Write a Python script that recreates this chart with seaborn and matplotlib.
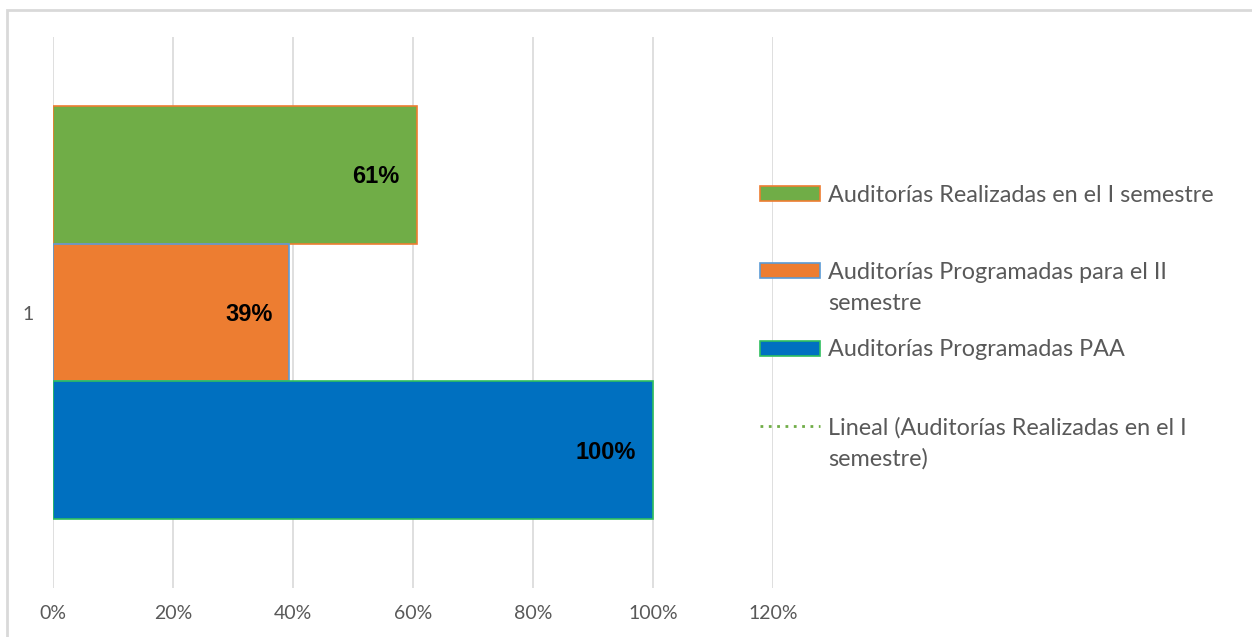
import matplotlib
matplotlib.use("Agg")
import matplotlib.pyplot as plt
from matplotlib.patches import Patch, Rectangle
from matplotlib.lines import Line2D
import seaborn as sns
import pandas as pd

# ---- data ----
series = ["Auditorías Realizadas en el I semestre",
          "Auditorías Programadas para el II semestre",
          "Auditorías Programadas PAA"]
values = [60.6, 39.4, 100]
category = "1"
trend_label = "Lineal (Auditorías Realizadas en el I semestre)"
x_ticks = [0, 20, 40, 60, 80, 100, 120]
x_tick_labels = ["0%", "20%", "40%", "60%", "80%", "100%", "120%"]

fill_colors = ["#70AD47", "#ED7D31", "#0070C0"]
edge_colors = ["#ED7D31", "#5B9BD5", "#2FBF5F"]

sns.set_theme(style="white")
plt.rcParams["font.family"] = ["Lato", "DejaVu Sans"]

W, H = 1252, 637
fig = plt.figure(figsize=(W / 100, H / 100), dpi=100)
ax = fig.add_axes([53 / W, 1 - 588 / H, (773 - 53) / W, (588 - 37) / H])

df = pd.DataFrame({"serie": series, "valor": values})
sns.barplot(data=df, x="valor", y="serie", hue="serie", palette=fill_colors,
            order=series, hue_order=series, width=1.0, orient="h",
            dodge=False, legend=False, ax=ax, saturation=1)

for p, ec in zip(ax.patches, edge_colors):
    p.set_edgecolor(ec)
    p.set_linewidth(1.2)

# data labels, right-aligned inside the bar end
for p in ax.patches:
    w = p.get_width()
    yc = p.get_y() + p.get_height() / 2
    ax.annotate(f"{w:.0f}%", xy=(w, yc), xytext=(-17 * 0.72, -1.5),
                textcoords="offset points", ha="right", va="center",
                fontsize=17, fontweight="bold", color="black",
                family=["Liberation Sans", "DejaVu Sans"])

ax.set_xlim(0, 120)
ax.set_ylim(3.0, -1.0)
ax.set_xticks(x_ticks)
ax.set_xticklabels(x_tick_labels)
ax.set_yticks([1])
ax.set_yticklabels([category])
ax.set_xlabel("")
ax.set_ylabel("")
ax.xaxis.grid(True, color="#D9D9D9", linewidth=1.2)
ax.yaxis.grid(False)
ax.set_axisbelow(True)
for s in ax.spines.values():
    s.set_visible(False)
ax.tick_params(axis="x", length=0, pad=12, labelsize=14, labelcolor="#595959")
ax.tick_params(axis="y", length=0, pad=14, labelsize=14, labelcolor="#595959")

# legend
handles = [Patch(facecolor=fc, edgecolor=ec, linewidth=1.2) for fc, ec in zip(fill_colors, edge_colors)]
handles.append(Line2D([], [], color="#70AD47", linestyle=(0, (1, 2)), linewidth=2))
first_lines = ["Auditorías Realizadas en el I semestre",
               "Auditorías Programadas para el II",
               "Auditorías Programadas PAA",
               "Lineal (Auditorías Realizadas en el I"]
second_lines = [None, "semestre", None, "semestre)"]
fs = 16.8
fs_px = fs * 100 / 72
leg = fig.legend(handles, first_lines, loc="center left",
                 bbox_to_anchor=(760 / W, 1 - 311.5 / H), frameon=False,
                 fontsize=fs, handlelength=60 / fs_px, handleheight=14 / fs_px,
                 handletextpad=8 / fs_px, borderpad=0, borderaxespad=0,
                 labelspacing=2.41, labelcolor="#595959")

fig.canvas.draw()
for t, extra in zip(leg.get_texts(), second_lines):
    if extra is None:
        continue
    bb = t.get_window_extent()
    fig.text(bb.x0 / W, (bb.y0 - 31) / H, extra, fontsize=fs, color="#595959",
             ha="left", va="bottom")

# chart border
fig.patches.append(Rectangle((7 / W, -0.1), 1.2, 1 - 10 / H + 0.1, transform=fig.transFigure,
                             fill=False, edgecolor="#D9D9D9", linewidth=2))

fig.savefig("out.png", dpi=100, facecolor="white")
